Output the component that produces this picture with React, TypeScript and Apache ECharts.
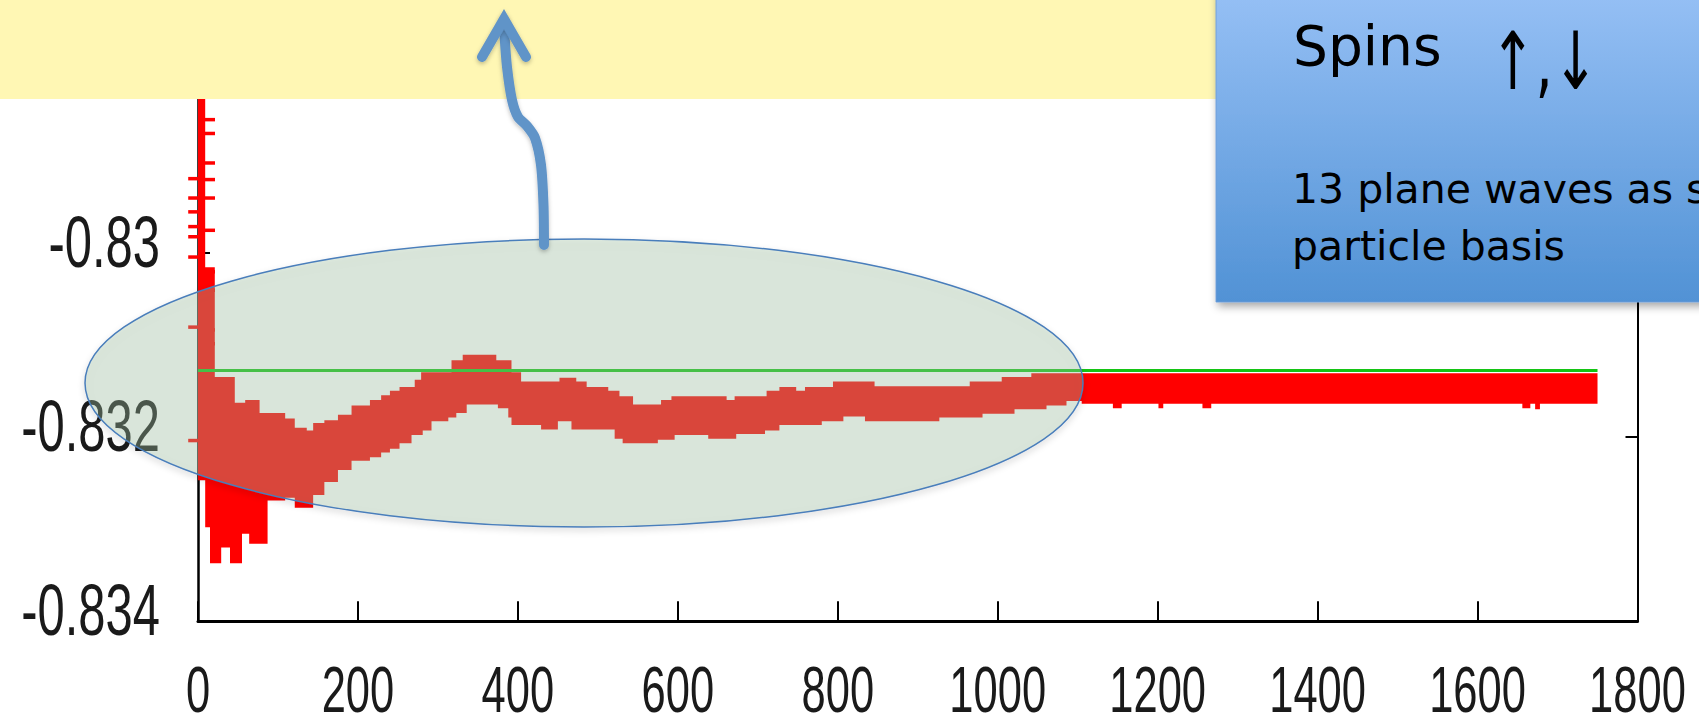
import React, { useEffect, useRef } from "react";
import * as echarts from "echarts";

// ---- axes ----
const X_MIN = 0;
const X_MAX = 1800;
const X_STEP = 200;
const Y_MIN = -0.834;
const Y_MAX = -0.828;
const Y_STEP = 0.002;

const xTickValues = [0, 200, 400, 600, 800, 1000, 1200, 1400, 1600, 1800];
const xTickLabels = ["0", "200", "400", "600", "800", "1000", "1200", "1400", "1600", "1800"];
const yTickValues = [-0.834, -0.832, -0.83];
const yTickLabels = ["-0.834", "-0.832", "-0.83"];

// ---- data ----
const lastIteration = 1750;
const exactEnergy = -0.83128;

// upper edge of the running estimate (step start iteration, value)
const upperIter = [0, 9, 21, 46, 59, 77, 109, 121, 136, 144, 158, 175, 192, 215, 229, 240, 252, 271, 279, 317, 331, 373, 392, 404, 452, 473, 486, 513, 527, 544, 579, 592, 661, 671, 711, 727, 748, 759, 794, 846, 965, 1005, 1042];
const upperVal = [-0.8275, -0.83016, -0.83135, -0.83163, -0.8316, -0.83174, -0.8318, -0.8319, -0.83193, -0.83185, -0.83182, -0.83176, -0.83166, -0.8316, -0.83155, -0.8315, -0.83146, -0.83138, -0.8313, -0.83117, -0.83111, -0.83117, -0.8313, -0.8314, -0.83136, -0.8314, -0.83146, -0.8315, -0.83156, -0.83165, -0.8316, -0.83156, -0.8316, -0.83156, -0.8315, -0.83146, -0.8315, -0.83146, -0.8314, -0.83145, -0.8314, -0.83135, -0.83131];

// lower edge of the running estimate (step start iteration, value)
const lowerIter = [0, 9, 15, 29, 40, 55, 64, 87, 109, 121, 144, 158, 175, 192, 215, 229, 240, 252, 267, 281, 292, 313, 323, 336, 375, 388, 392, 429, 450, 467, 521, 531, 575, 596, 638, 673, 709, 727, 780, 807, 834, 927, 981, 1021, 1061, 1086, 1105, 1144, 1155, 1201, 1207, 1256, 1267, 1656, 1666, 1672, 1678];
const lowerVal = [-0.83247, -0.83298, -0.83337, -0.8332, -0.83337, -0.83305, -0.83316, -0.83269, -0.83266, -0.83277, -0.83263, -0.83249, -0.83236, -0.83226, -0.83222, -0.83217, -0.83213, -0.83207, -0.83198, -0.83193, -0.83183, -0.83179, -0.83174, -0.83165, -0.83169, -0.83179, -0.83187, -0.83192, -0.83183, -0.83192, -0.83202, -0.83207, -0.83203, -0.83198, -0.83202, -0.83197, -0.83193, -0.83187, -0.83183, -0.83178, -0.83183, -0.83179, -0.83175, -0.8317, -0.83166, -0.83161, -0.83164, -0.83169, -0.83164, -0.83169, -0.83164, -0.83169, -0.83164, -0.83169, -0.83164, -0.8317, -0.83164];

// error-bar caps of the first few samples
const capsRight = [-0.82856, -0.82871, -0.82903, -0.82921, -0.82941, -0.82976, -0.83021, -0.83041, -0.83084, -0.83099];
const capsLeft = [-0.8292, -0.82941, -0.82956, -0.82972, -0.82983, -0.83005, -0.83081, -0.83204];
const capIterRight = 15;
const capIterLeft = -6;

const TICK_FONT = '"Liberation Sans", Arial, sans-serif';
const NOTE_FONT = '"Comic Sans MS", "DejaVu Sans", sans-serif';

function stepEdge(iters: number[], vals: number[], end: number): number[][] {
  const pts: number[][] = [];
  for (let i = 0; i < iters.length; i++) {
    const next = i + 1 < iters.length ? iters[i + 1] : end;
    pts.push([iters[i], vals[i]], [next, vals[i]]);
  }
  return pts;
}

const upperPts = stepEdge(upperIter, upperVal, lastIteration);
const lowerPts = stepEdge(lowerIter, lowerVal, lastIteration).reverse();
const bandOutline = upperPts.concat(lowerPts);

const capData = capsRight.map((v) => [capIterRight, v]).concat(capsLeft.map((v) => [capIterLeft, v]));

function tickText(text: string, size: number, align: string) {
  return {
    text,
    fontSize: size,
    fontFamily: TICK_FONT,
    fill: "#1a1a1a",
    align,
    verticalAlign: "middle",
    textAlign: align,
    textVerticalAlign: "middle",
  };
}

function noteText(text: string, size: number, family: string) {
  return {
    text,
    fontSize: size,
    fontFamily: family,
    fill: "#000000",
    align: "left",
    verticalAlign: "middle",
    textAlign: "left",
    textVerticalAlign: "middle",
  };
}

function buildOption(): any {
  const axisBlack = "#000000";
  const arrowStyle = {
    stroke: "#6194c8",
    lineWidth: 10,
    lineCap: "round",
    fill: null,
    shadowBlur: 4,
    shadowOffsetY: 2,
    shadowColor: "rgba(0,0,0,0.25)",
  };
  return {
    animation: false,
    backgroundColor: "#ffffff",
    grid: { left: 198, right: 61.5, top: 68, bottom: 105.7 },
    xAxis: {
      type: "value",
      min: X_MIN,
      max: X_MAX,
      interval: X_STEP,
      axisLine: { onZero: false, lineStyle: { color: axisBlack, width: 3 } },
      axisTick: { inside: true, length: 20, lineStyle: { color: axisBlack, width: 2 } },
      axisLabel: { show: false },
      splitLine: { show: false },
    },
    yAxis: [
      {
        type: "value",
        min: Y_MIN,
        max: Y_MAX,
        interval: Y_STEP,
        axisLine: { show: true, onZero: false, lineStyle: { color: axisBlack, width: 2.5 } },
        axisTick: { show: true, inside: true, length: 12, lineStyle: { color: axisBlack, width: 2 } },
        axisLabel: { show: false },
        splitLine: { show: false },
      },
      {
        type: "value",
        position: "right",
        min: Y_MIN,
        max: Y_MAX,
        interval: Y_STEP,
        axisLine: { show: true, onZero: false, lineStyle: { color: axisBlack, width: 2 } },
        axisTick: { show: true, inside: true, length: 12, lineStyle: { color: axisBlack, width: 2 } },
        axisLabel: { show: false },
        splitLine: { show: false },
      },
    ],
    series: [
      {
        type: "custom",
        name: "estimate",
        silent: true,
        clip: true,
        z: 2,
        data: [upperPts[0]],
        renderItem: (_params: any, api: any) => ({
          type: "polygon",
          shape: { points: bandOutline.map((p) => api.coord(p)) },
          style: { fill: "#ff0000" },
        }),
      },
      {
        type: "custom",
        name: "caps",
        silent: true,
        clip: false,
        z: 2,
        data: capData,
        renderItem: (_params: any, api: any) => {
          const p = api.coord([api.value(0), api.value(1)]);
          return {
            type: "line",
            shape: { x1: p[0] - 5, y1: p[1], x2: p[0] + 5, y2: p[1] },
            style: { stroke: "#ff0000", lineWidth: 3.5 },
          };
        },
      },
      {
        type: "line",
        name: "exact",
        silent: true,
        z: 3,
        symbol: "none",
        lineStyle: { color: "#14c414", width: 3 },
        data: [
          [0, exactEnergy],
          [lastIteration, exactEnergy],
        ],
      },
      {
        type: "custom",
        name: "x labels",
        silent: true,
        clip: false,
        z: 5,
        data: xTickValues.map((v) => [v, Y_MIN]),
        renderItem: (params: any, api: any) => {
          const p = api.coord([api.value(0), api.value(1)]);
          return {
            type: "text",
            x: p[0],
            y: p[1] + 68.5,
            scaleX: 0.68,
            style: tickText(xTickLabels[params.dataIndex], 64, "center"),
          };
        },
      },
      {
        type: "custom",
        name: "y labels",
        silent: true,
        clip: false,
        z: 5,
        data: yTickValues.map((v) => [X_MIN, v]),
        renderItem: (params: any, api: any) => {
          const p = api.coord([api.value(0), api.value(1)]);
          return {
            type: "text",
            x: p[0] - 38,
            y: p[1] - 11,
            scaleX: 0.68,
            style: tickText(yTickLabels[params.dataIndex], 72, "right"),
          };
        },
      },
    ],
    graphic: {
      elements: [
        // highlight ellipse over the converging region
        {
          type: "ellipse",
          z: 10,
          silent: true,
          shape: { cx: 584, cy: 383, rx: 499, ry: 144 },
          style: {
            fill: "rgba(163,197,166,0.33)",
            stroke: "#4a7ebb",
            lineWidth: 1.5,
            shadowBlur: 6,
            shadowOffsetY: 3,
            shadowColor: "rgba(0,0,0,0.22)",
          },
        },
        // title banner strip
        {
          type: "rect",
          z: 11,
          silent: true,
          shape: { x: 0, y: 0, width: 1220, height: 99 },
          style: { fill: "#fff7b4" },
        },
        // curved arrow
        {
          type: "polyline",
          z: 12,
          silent: true,
          shape: {
            points: [
              [544, 245],
              [543.5, 205],
              [541, 165],
              [535, 138],
              [527, 126],
              [518, 117],
              [512, 100],
              [507, 67],
              [504.5, 35],
              [504, 20],
            ],
            smooth: 0.25,
          },
          style: { ...arrowStyle, lineJoin: "round" },
        },
        {
          type: "polyline",
          z: 12,
          silent: true,
          shape: {
            points: [
              [482, 57],
              [504, 19],
              [526, 57],
            ],
          },
          style: { ...arrowStyle, lineJoin: "miter" },
        },
        // note box
        {
          type: "rect",
          z: 13,
          silent: true,
          shape: { x: 1216, y: -10, width: 500, height: 312 },
          style: {
            fill: new echarts.graphic.LinearGradient(0, 0, 0, 1, [
              { offset: 0, color: "#96c0f5" },
              { offset: 1, color: "#5192d5" },
            ]),
            stroke: "rgba(110,155,215,0.9)",
            lineWidth: 1,
            shadowBlur: 8,
            shadowOffsetX: 2,
            shadowOffsetY: 4,
            shadowColor: "rgba(0,0,0,0.35)",
          },
        },
        {
          type: "text",
          z: 14,
          silent: true,
          x: 1293,
          y: 46,
          style: noteText("Spins", 55, NOTE_FONT),
        },
        {
          type: "text",
          z: 14,
          silent: true,
          x: 1490,
          y: 62,
          scaleX: 0.68,
          style: noteText("↑,↓", 80, '"DejaVu Sans", sans-serif'),
        },
        {
          type: "text",
          z: 14,
          silent: true,
          x: 1292,
          y: 189,
          style: noteText("13 plane waves as single", 41, NOTE_FONT),
        },
        {
          type: "text",
          z: 14,
          silent: true,
          x: 1292,
          y: 246,
          style: noteText("particle basis", 41, NOTE_FONT),
        },
      ],
    },
  };
}

export default function App() {
  const ref = useRef<HTMLDivElement>(null);
  useEffect(() => {
    if (!ref.current) return;
    const chart = echarts.init(ref.current, null, { renderer: "svg" });
    chart.setOption(buildOption());
    return () => {
      chart.dispose();
    };
  }, []);
  return (
    <div
      ref={ref}
      style={{ position: "fixed", left: 0, top: 0, width: 1699, height: 727, background: "#ffffff" }}
    />
  );
}
